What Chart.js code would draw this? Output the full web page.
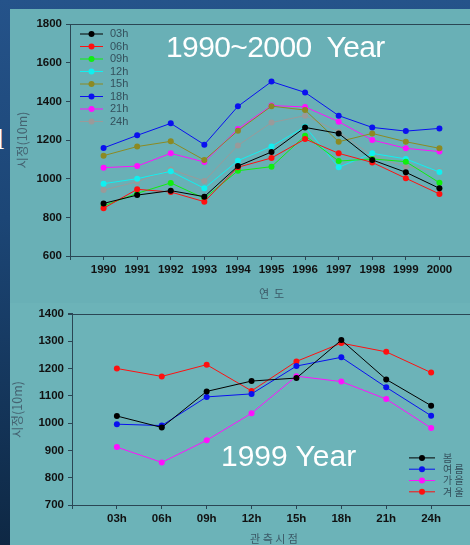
<!DOCTYPE html>
<html><head><meta charset="utf-8">
<script src="https://cdn.jsdelivr.net/npm/chart.js@4.4.0/dist/chart.umd.min.js"></script>
<style>
html,body{margin:0;padding:0;}
body{width:470px;height:545px;overflow:hidden;position:relative;background:linear-gradient(180deg,#25538a 0%,#1c4676 40%,#0e2844 100%);font-family:"Liberation Sans",Arial,sans-serif;}
.wrap{position:absolute;left:10px;width:470px;overflow:hidden;}
#w1{top:9px;height:294px;background:#69b0b6;}
#w2{top:303px;height:242px;background:#6cb3b8;}
canvas{display:block;}
.title{position:absolute;color:#fff;font-family:"Liberation Sans",Arial,sans-serif;font-size:30px;line-height:30px;white-space:pre;}
#t1{left:166px;top:32px;letter-spacing:-0.6px;}
#t2{left:221px;top:441px;}
#cut{position:absolute;left:-4px;top:124px;color:#fff;font-family:"Liberation Serif",serif;font-size:30px;line-height:30px;}
</style></head>
<body>
<div id="cut">l</div>
<div class="wrap" id="w1"><canvas id="c1" width="470" height="294"></canvas></div>
<div class="wrap" id="w2"><canvas id="c2" width="470" height="242"></canvas></div>
<div class="title" id="t1">1990~2000  Year</div>
<div class="title" id="t2">1999 Year</div>
<script>
// ---- Top chart data (1990~2000) ----
const years = ['1990','1991','1992','1993','1994','1995','1996','1997','1998','1999','2000'];
const topNames = ['03h','06h','09h','12h','15h','18h','21h','24h'];
const h03 = [872, 915, 938, 907, 1065, 1138, 1265, 1234, 1097, 1033, 950];
const h06 = [847, 945, 931, 881, 1059, 1107, 1205, 1131, 1084, 1002, 921];
const h09 = [860, 924, 978, 898, 1041, 1062, 1222, 1091, 1102, 1088, 979];
const h12 = [974, 1000, 1038, 950, 1093, 1167, 1269, 1059, 1131, 1102, 1034];
const h15 = [1119, 1166, 1193, 1096, 1248, 1375, 1355, 1191, 1234, 1191, 1157];
const h18 = [1159, 1224, 1286, 1176, 1374, 1502, 1446, 1326, 1265, 1246, 1260];
const h21 = [1057, 1065, 1131, 1086, 1257, 1378, 1371, 1295, 1200, 1157, 1140];
const h24 = [941, 984, 1048, 988, 1172, 1290, 1326, 1243, 1117, 1062, 1040];
const topColors = ['#000000','#ff1010','#10ee10','#10f0f0','#8c8a22','#0a10f0','#ff10ff','#9a9a9a'];

// ---- Bottom chart data (1999) ----
const hours = ['03h','06h','09h','12h','15h','18h','21h','24h'];
const seasonNames = ['봄','여 름','가 을','겨 울'];
const spring = [1026, 984, 1116, 1154, 1165, 1304, 1160, 1064];
const summer = [996, 991, 1096, 1107, 1209, 1241, 1131, 1027];
const autumn = [912, 856, 937, 1036, 1172, 1152, 1088, 982];
const winter = [1200, 1171, 1214, 1118, 1226, 1293, 1261, 1185];
const seasonColors = ['#000000','#0a10f0','#ff10ff','#ff1010'];

const axisColor = '#2a4654';
const tickFont = {family:'"Liberation Sans", Arial, sans-serif', size:11.5, weight:'bold'};
const korFont = {family:'"Noto Sans CJK KR", sans-serif', size:11};
const yTitleFont = {family:'"Noto Sans CJK KR", sans-serif', size:12.5};

function ds(label, vals, color){
  return {label, data: vals.map((v,i)=>({x:i,y:v})), borderColor: color, backgroundColor: color,
    pointBackgroundColor: color, pointBorderColor: color, pointRadius: 3, pointBorderWidth: 0,
    borderWidth: 1, tension: 0};
}

const frame = {
  id:'frame',
  afterDraw(chart){
    const {ctx, chartArea:a} = chart;
    ctx.save(); ctx.strokeStyle = axisColor; ctx.lineWidth = 1;
    ctx.beginPath(); ctx.moveTo(a.left-4, Math.round(a.top)+0.5); ctx.lineTo(a.right, Math.round(a.top)+0.5); ctx.stroke();
    ctx.restore();
  }
};
const inLegend = {
  id:'inLegend',
  afterDraw(chart, args, o){
    const {ctx, chartArea:a} = chart;
    ctx.save();
    ctx.font = o.font; ctx.textBaseline = 'middle'; ctx.textAlign = 'left';
    chart.data.datasets.forEach((d,i)=>{
      const y = a.top + o.dy + i*o.spacing;
      const x0 = a.left + o.dx;
      ctx.strokeStyle = d.borderColor; ctx.lineWidth = 1;
      ctx.beginPath(); ctx.moveTo(x0, y); ctx.lineTo(x0+o.len, y); ctx.stroke();
      ctx.fillStyle = d.pointBackgroundColor;
      ctx.beginPath(); ctx.arc(x0+o.len/2, y, 3, 0, Math.PI*2); ctx.fill();
      ctx.fillStyle = o.color;
      ctx.fillText(d.label, x0+o.len+o.gap, y);
    });
    ctx.restore();
  }
};

function mkScales(labels, ymin, ymax, step, yW, xH, xTitle, yTitlePad, xTitlePad){
  return {
    x: {type:'linear', min:-1, max:labels.length, afterFit(s){ s.height = xH; },
      ticks:{stepSize:1, autoSkip:false, maxRotation:0, color:'#111', font:tickFont, padding:3,
        callback:(v)=> labels[v] !== undefined ? labels[v] : ''},
      grid:{display:true, drawOnChartArea:false, tickLength:4, color:axisColor},
      border:{display:true, color:axisColor, width:1},
      title:{display:true, text:xTitle, color:'#3b5866', font:korFont, padding:{top:0,bottom:xTitlePad}}},
    y: {min:ymin, max:ymax, afterFit(s){ s.width = yW; },
      ticks:{stepSize:step, color:'#111', font:tickFont, padding:4, callback:(v)=> String(v)},
      grid:{display:true, drawOnChartArea:false, tickLength:4, color:axisColor},
      border:{display:true, color:axisColor, width:1},
      title:{display:true, text:'시정(10m)', color:'#456371', font:yTitleFont, padding:{top:yTitlePad,bottom:0}}}
  };
}

new Chart(document.getElementById('c1'), {
  type:'line',
  data:{datasets:[ds(topNames[0],h03,topColors[0]), ds(topNames[1],h06,topColors[1]), ds(topNames[2],h09,topColors[2]),
    ds(topNames[3],h12,topColors[3]), ds(topNames[4],h15,topColors[4]), ds(topNames[5],h18,topColors[5]),
    ds(topNames[6],h21,topColors[6]), ds(topNames[7],h24,topColors[7])]},
  options:{responsive:false, animation:false, layout:{padding:{top:15,right:7,left:0,bottom:0}},
    plugins:{legend:{display:false}, tooltip:{enabled:false},
      inLegend:{dx:10, dy:10, spacing:12.5, len:23, gap:7, font:'11px "Liberation Sans", Arial, sans-serif', color:'#34505c'}},
    scales: mkScales(years, 600, 1800, 200, 60, 47, '연  도', 5, 3)},
  plugins:[frame, inLegend]
});

new Chart(document.getElementById('c2'), {
  type:'line',
  data:{datasets:[ds(seasonNames[0],spring,seasonColors[0]), ds(seasonNames[1],summer,seasonColors[1]),
    ds(seasonNames[2],autumn,seasonColors[2]), ds(seasonNames[3],winter,seasonColors[3])]},
  options:{responsive:false, animation:false, layout:{padding:{top:10,right:4,left:0,bottom:0}},
    plugins:{legend:{display:false}, tooltip:{enabled:false},
      inLegend:{dx:337, dy:144, spacing:11.3, len:26, gap:8, font:'10px "Noto Sans CJK KR", sans-serif', color:'#34505c'}},
    scales: mkScales(hours, 700, 1400, 100, 62, 40, '관 측 시 점', 0, 0)},
  plugins:[frame, inLegend]
});
</script>
</body></html>
